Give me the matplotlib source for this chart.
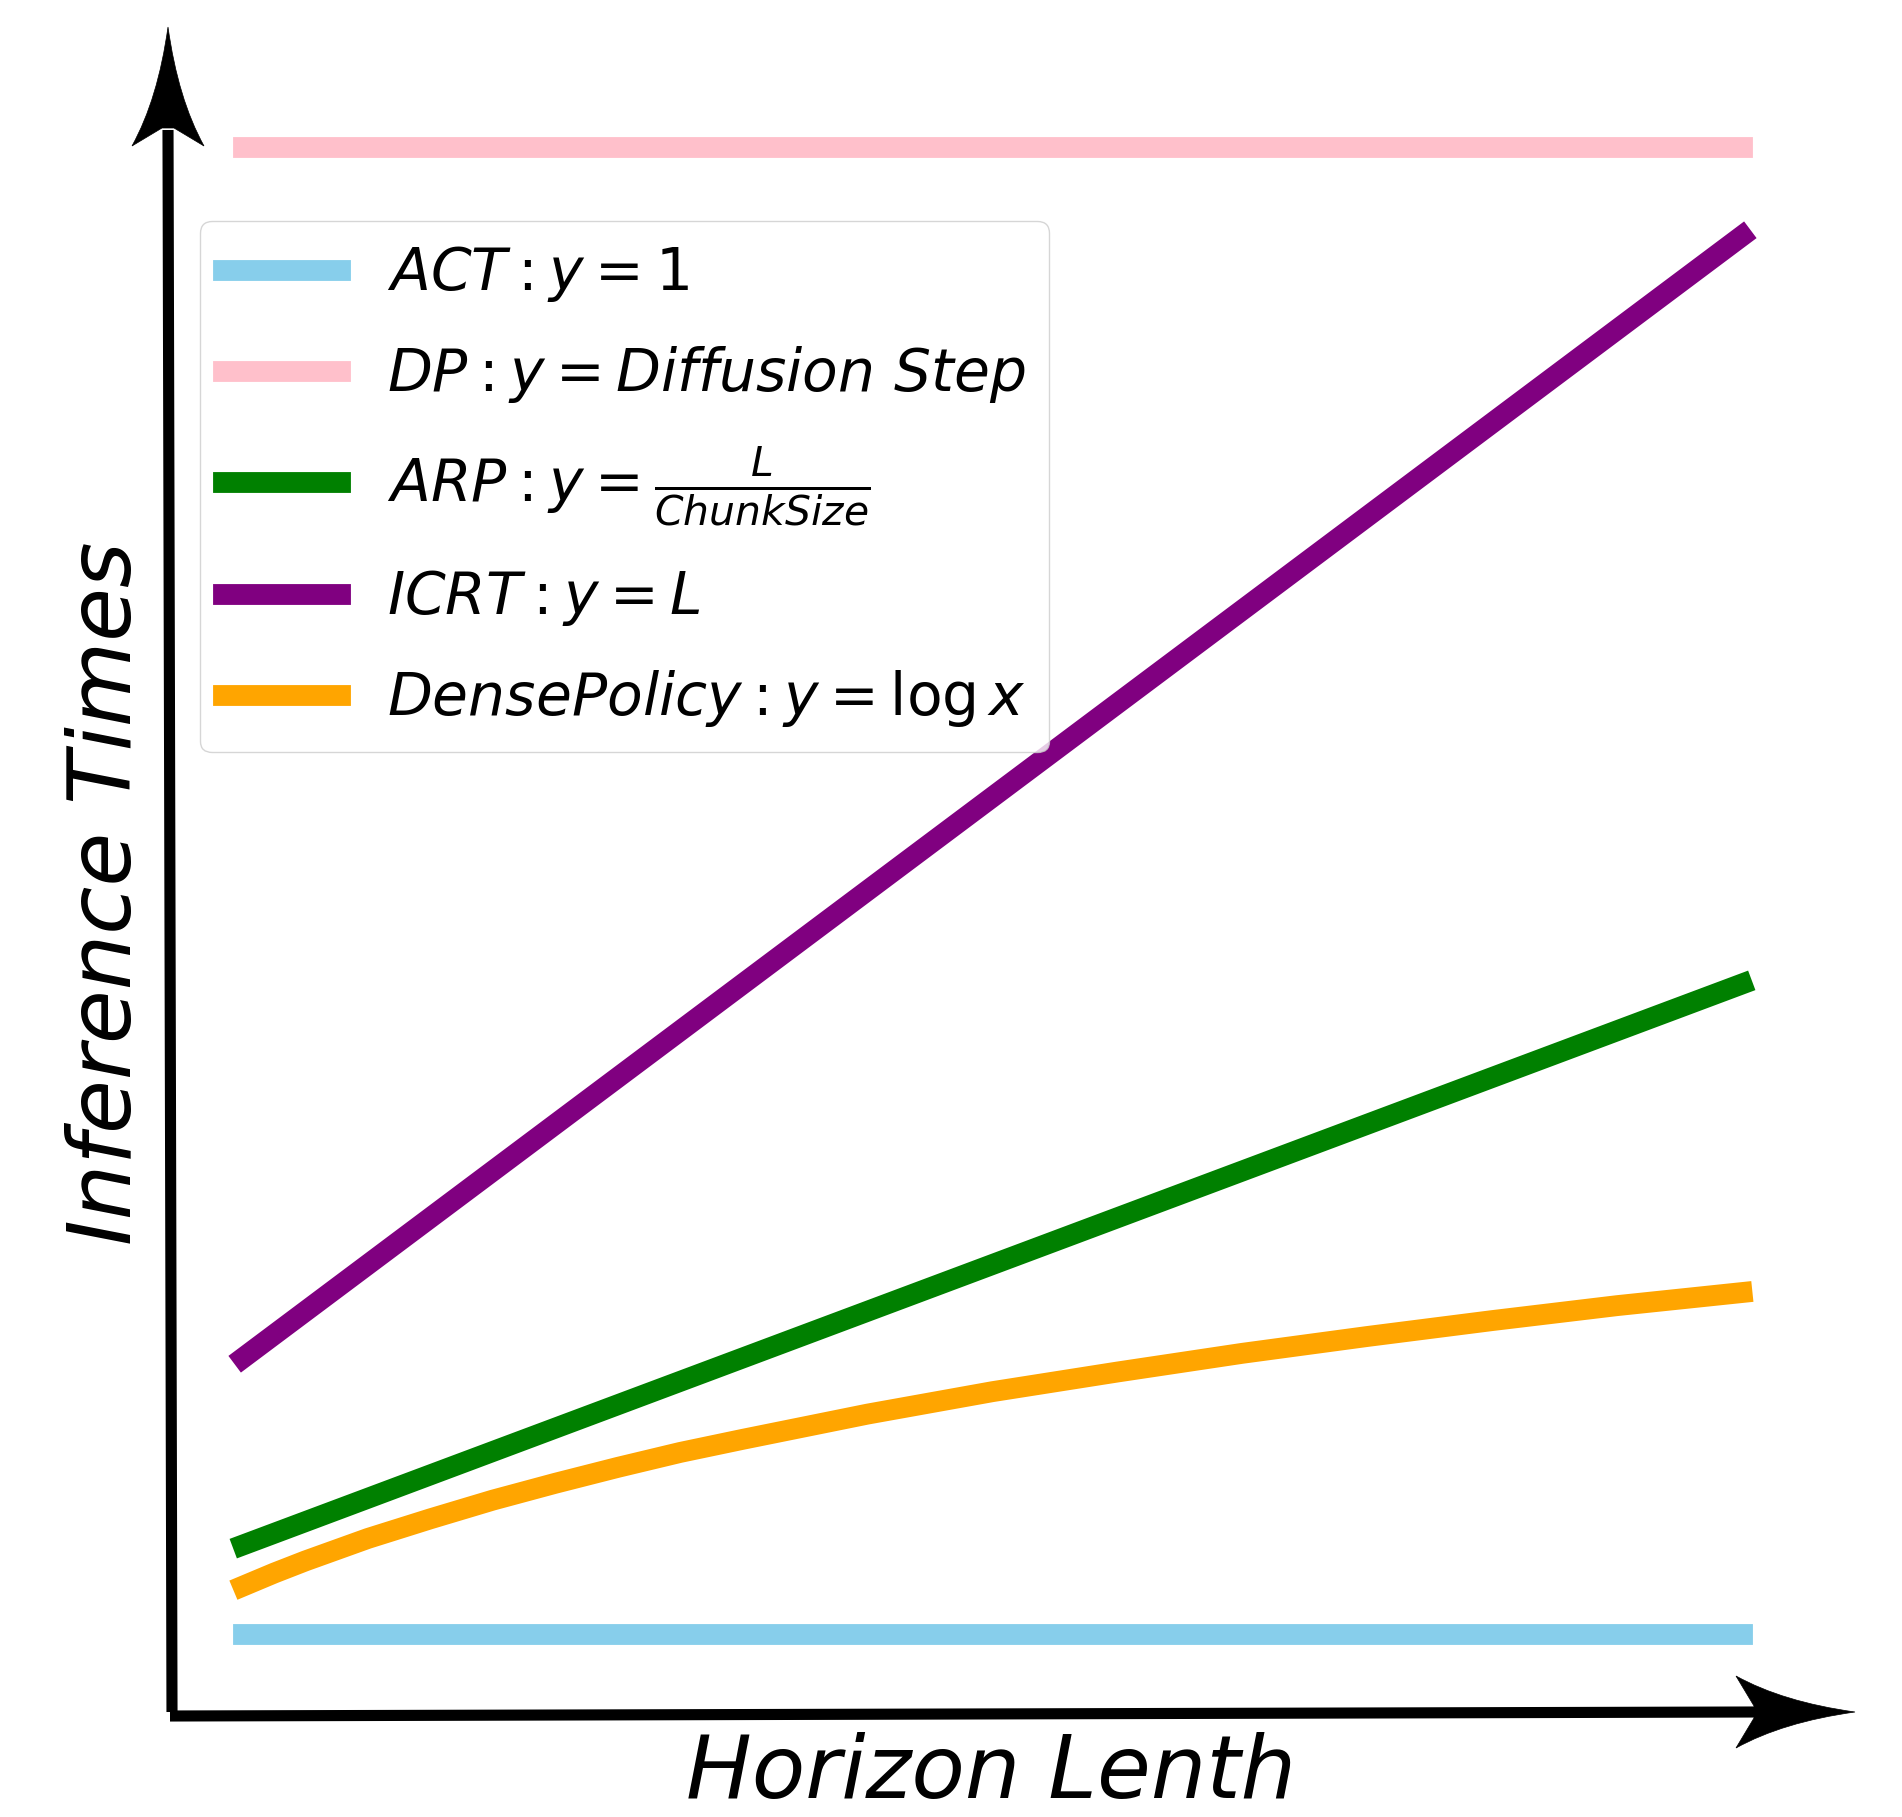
import numpy as np
import matplotlib
matplotlib.use("Agg")
import matplotlib.pyplot as plt
from matplotlib.path import Path
from matplotlib.patches import PathPatch

# ---------------- data ----------------
horizon = np.array([4, 4.25, 4.5, 4.75, 5, 5.5, 6, 6.5, 7, 7.5, 8,
                    9, 10, 11, 12, 13, 14, 15, 16])
act_y = [1.05, 1.05]            # ACT: y = 1
dp_y = [16.95, 16.95]           # DP: y = diffusion step
arp_y = [2.0, 8.0]              # ARP: y = L / chunk size
icrt_y = [4.0, 16.0]            # ICRT: y = L
dense_y = [1.56, 1.70, 1.83, 1.95, 2.07, 2.28, 2.48, 2.66, 2.83, 2.99, 3.13,
           3.40, 3.64, 3.85, 4.05, 4.23, 4.40, 4.56, 4.70]  # DensePolicy: y = log x
ends = [horizon[0], horizon[-1]]

labels = [r'$ACT: y=1$',
          r'$DP: y=Diffusion\ Step$',
          r'$ARP: y=\frac{L}{ChunkSize}$',
          r'$ICRT: y=L$',
          r'$DensePolicy: y=\log x$']
colors = ['skyblue', 'pink', 'green', 'purple', 'orange']

W, H = 1902, 1817
fig = plt.figure(figsize=(W / 100, H / 100), dpi=100)
ax = fig.add_axes([0, 0, 1, 1])
ax.axis('off')

# map data onto the picture (L=4 -> px 243, L=16 -> px 1742, y=0 -> px 1732)
xs = (1742 - 243) / 12.0
ys = 93.5
ax.set_xlim(4 - 243 / xs, 4 + (W - 243) / xs)
ax.set_ylim((1732 - H) / ys, 1732 / ys)

kw = dict(lw=15, solid_capstyle='projecting', solid_joinstyle='round')
ax.plot(ends, act_y, color=colors[0], label=labels[0], **kw)
ax.plot(ends, dp_y, color=colors[1], label=labels[1], **kw)
ax.plot(ends, arp_y, color=colors[2], label=labels[2], **kw)
ax.plot(ends, icrt_y, color=colors[3], label=labels[3], **kw)
ax.plot(horizon, dense_y, color=colors[4], label=labels[4], **kw)


# ---------------- hand drawn looking axis arrows ----------------
def fr(px, py):
    return px / W, 1 - py / H


def head(tip, direction):
    # local (back, side) pixel offsets of a stealth style head
    local = [(0, 0), (72, -10), (119, -36), (101, -6), (101, 6),
             (119, 36), (72, 10), (0, 0), (0, 0)]
    codes = [Path.MOVETO, Path.CURVE3, Path.CURVE3, Path.LINETO, Path.LINETO,
             Path.LINETO, Path.CURVE3, Path.CURVE3, Path.CLOSEPOLY]
    verts = []
    for u, v in local:
        if direction == 'up':
            verts.append(fr(tip[0] + v, tip[1] + u))
        else:
            verts.append(fr(tip[0] - u, tip[1] + v))
    ax.add_patch(PathPatch(Path(verts, codes), facecolor='black',
                           edgecolor='black', lw=0.5, transform=ax.transAxes,
                           clip_on=False))


vx0, vy0 = fr(172, 1712)
vx1, vy1 = fr(168, 130)
ax.plot([vx0, vx1], [vy0, vy1], color='black', lw=8, solid_capstyle='butt',
        transform=ax.transAxes, clip_on=False)
head((168, 27), 'up')

hx0, hy0 = fr(170, 1716)
hx1, hy1 = fr(1755, 1712)
ax.plot([hx0, hx1], [hy0, hy1], color='black', lw=8, solid_capstyle='butt',
        transform=ax.transAxes, clip_on=False)
head((1855, 1712), 'right')

ax.text(991 / W, 1 - 1798 / H, 'Horizon Lenth', fontsize=63, style='italic',
        ha='center', va='baseline', transform=ax.transAxes)
ax.text(131 / W, 1 - 893 / H, 'Inference Times', fontsize=63, style='italic',
        rotation=90, rotation_mode='anchor', ha='center', va='baseline',
        transform=ax.transAxes)

ax.legend(loc='upper left', bbox_to_anchor=(200 / W, 1 - 221 / H),
          borderaxespad=0, fontsize=42, handlelength=2.0, handletextpad=0.8,
          labelspacing=0.68)

plt.savefig("out.png", dpi=100)
